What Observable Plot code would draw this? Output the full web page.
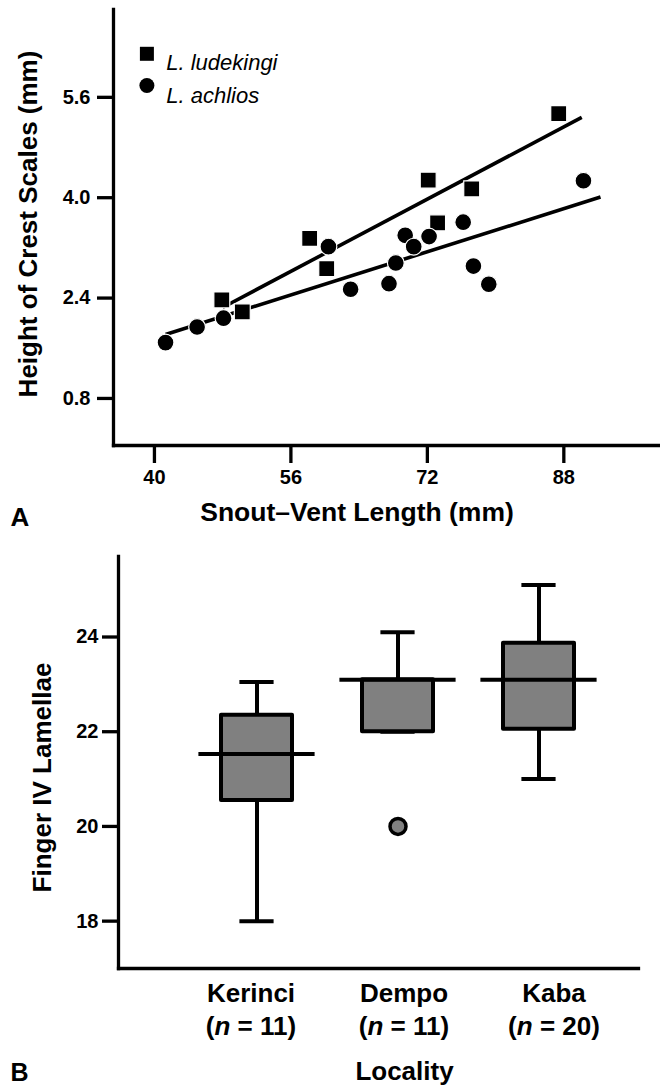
<!DOCTYPE html>
<html>
<head>
<meta charset="utf-8">
<script src="https://cdn.jsdelivr.net/npm/d3@7"></script>
<script src="https://cdn.jsdelivr.net/npm/@observablehq/plot@0.6"></script>
<style>
  body { margin: 0; background: #fff; }
  #chart svg { display: block; }
</style>
</head>
<body>
<div id="chart"></div>
<script>
// ---------- Panel A data ----------
const speciesNames = ["L. ludekingi", "L. achlios"];
const ludekingiSVL   = [47.9, 50.3, 58.2, 60.2, 72.1, 73.2, 77.2, 87.4];
const ludekingiCrest = [2.37, 2.18, 3.35, 2.87, 4.28, 3.60, 4.14, 5.34];
const achliosSVL   = [41.3, 45.0, 48.1, 60.4, 63.0, 67.5, 68.3, 69.4, 70.4, 72.2, 76.2, 77.4, 79.2, 90.3];
const achliosCrest = [1.69, 1.94, 2.08, 3.22, 2.54, 2.63, 2.96, 3.40, 3.22, 3.38, 3.61, 2.91, 2.62, 4.27];
// fitted regression lines (end points)
const fitSpecies    = ["L. ludekingi", "L. achlios"];
const fitSVLStart   = [48.0, 41.3];
const fitCrestStart = [2.25, 1.82];
const fitSVLEnd     = [90.1, 92.3];
const fitCrestEnd   = [5.28, 4.01];
const crestTicks = [0.8, 2.4, 4.0, 5.6];
const svlTicks = [40, 56, 72, 88];

// ---------- Panel B data ----------
const localities  = ["Kerinci", "Dempo", "Kaba"];
const sampleSizes = [11, 11, 20];
const whiskerLow  = [18.0, 22.0, 21.0];
const q1          = [20.55, 22.0, 22.05];
const medians     = [21.53, 23.1, 23.1];
const q3          = [22.35, 23.1, 23.87];
const whiskerHigh = [23.05, 24.1, 25.1];
const outlierLocality = ["Dempo"];
const outlierValue    = [20];
const lamellaeTicks = [18, 20, 22, 24];

const FONT = "'Liberation Sans', Arial, Helvetica, sans-serif";

const ptsL = ludekingiSVL.map((x, i) => ({species: speciesNames[0], svl: x, crest: ludekingiCrest[i]}));
const ptsA = achliosSVL.map((x, i) => ({species: speciesNames[1], svl: x, crest: achliosCrest[i]}));
const fits = fitSpecies.map((s, i) => ({species: s, x1: fitSVLStart[i], y1: fitCrestStart[i], x2: fitSVLEnd[i], y2: fitCrestEnd[i]}));

const axisLine = {stroke: "black", strokeWidth: 3.3, strokeLinecap: "square"};

const topPlot = Plot.plot({
  width: 660, height: 535,
  marginLeft: 113, marginRight: 2, marginTop: 9, marginBottom: 90,
  style: {fontFamily: FONT, background: "white", color: "black", overflow: "visible"},
  x: {domain: [35.2, 99.1], label: null},
  y: {domain: [0.05, 7.0], label: null},
  marks: [
    Plot.frame({anchor: "left", ...axisLine}),
    Plot.frame({anchor: "bottom", ...axisLine}),
    Plot.axisY(crestTicks, {tickFormat: d3.format(".1f"), tickSize: 16, tickPadding: 7, strokeWidth: 3.3, fontSize: 20, fontWeight: "bold", label: null}),
    Plot.axisX(svlTicks, {tickSize: 18, tickPadding: 6, strokeWidth: 3.3, fontSize: 20, fontWeight: "bold", label: null}),
    Plot.link(fits, {x1: "x1", y1: "y1", x2: "x2", y2: "y2", stroke: "black", strokeWidth: 3.6}),
    Plot.dot(ptsL, {x: "svl", y: "crest", symbol: "square", r: 9, fill: "black", stroke: "white", strokeWidth: 1.2}),
    Plot.dot(ptsA, {x: "svl", y: "crest", symbol: "circle", r: 8.4, fill: "black", stroke: "white", strokeWidth: 1.2}),
    // legend
    Plot.dot([speciesNames[0]], {frameAnchor: "top-left", dx: 33.4, dy: 44.3, symbol: "square", r: 7.9, fill: "black"}),
    Plot.dot([speciesNames[1]], {frameAnchor: "top-left", dx: 33.4, dy: 76, symbol: "circle", r: 7.5, fill: "black"}),
    Plot.text([speciesNames[0]], {frameAnchor: "top-left", textAnchor: "start", dx: 52.7, dy: 45, fontSize: 22, fontStyle: "italic"}),
    Plot.text([speciesNames[1]], {frameAnchor: "top-left", textAnchor: "start", dx: 52.7, dy: 77.5, fontSize: 22, fontStyle: "italic"}),
    // titles
    Plot.text(["Snout–Vent Length (mm)"], {frameAnchor: "bottom", textAnchor: "middle", lineAnchor: "bottom", dx: -29, dy: 75, fontSize: 26.5, fontWeight: "bold"}),
    Plot.text(["Height of Crest Scales (mm)"], {frameAnchor: "left", textAnchor: "middle", rotate: -90, lineAnchor: "bottom", dx: -76.8, dy: -3.5, fontSize: 26, fontWeight: "bold"}),
    Plot.text(["A"], {frameAnchor: "bottom-left", textAnchor: "start", lineAnchor: "bottom", dx: -103, dy: 80, fontSize: 26, fontWeight: "bold"})
  ]
});

const boxes = localities.map((loc, i) => ({loc, n: sampleSizes[i], lo: whiskerLow[i], q1: q1[i], med: medians[i], q3: q3[i], hi: whiskerHigh[i]}));
const outliers = outlierLocality.map((loc, i) => ({loc, value: outlierValue[i]}));
// small horizontal shifts of the category labels, as in the figure
const labelShift = [-6, 6, 15];

const bottomPlot = Plot.plot({
  width: 660, height: 554,
  marginLeft: 118, marginRight: 22, marginTop: 21, marginBottom: 121,
  style: {fontFamily: FONT, background: "white", color: "black", overflow: "visible"},
  x: {type: "band", domain: localities, range: [149.9, 645.2], padding: 0.5, axis: null, label: null},
  y: {domain: [17, 25.7], label: null},
  marks: [
    Plot.frame({anchor: "left", ...axisLine}),
    Plot.frame({anchor: "bottom", ...axisLine}),
    Plot.axisY(lamellaeTicks, {tickSize: 16, tickPadding: 4, strokeWidth: 3.3, fontSize: 20, fontWeight: "bold", label: null}),
    Plot.ruleX(boxes, {x: "loc", y1: "q3", y2: "hi", stroke: "black", strokeWidth: 4}),
    Plot.ruleX(boxes, {x: "loc", y1: "lo", y2: "q1", stroke: "black", strokeWidth: 4}),
    Plot.tickY(boxes, {x: "loc", y: "hi", inset: 18.4, stroke: "black", strokeWidth: 4}),
    Plot.tickY(boxes, {x: "loc", y: "lo", inset: 18.4, stroke: "black", strokeWidth: 4}),
    Plot.barY(boxes, {x: "loc", y1: "q1", y2: "q3", fill: "#808080", stroke: "black", strokeWidth: 4, strokeLinejoin: "round"}),
    Plot.tickY(boxes, {x: "loc", y: "med", inset: -22.6, stroke: "black", strokeWidth: 4}),
    Plot.dot(outliers, {x: "loc", y: "value", r: 8, fill: "#808080", stroke: "black", strokeWidth: 3.5}),
    ...boxes.map((b, i) => Plot.text([b], {x: "loc", text: d => `${d.loc}\n(n = ${d.n})`, frameAnchor: "bottom", lineAnchor: "top", dx: labelShift[i], dy: 10, fontSize: 26, fontWeight: "bold", lineHeight: 1.27})),
    Plot.text(["Locality"], {frameAnchor: "bottom", textAnchor: "middle", lineAnchor: "bottom", dx: 26, dy: 111, fontSize: 26, fontWeight: "bold"}),
    Plot.text(["Finger IV Lamellae"], {frameAnchor: "left", textAnchor: "middle", rotate: -90, lineAnchor: "bottom", dx: -68, dy: 15, fontSize: 26, fontWeight: "bold"}),
    Plot.text(["B"], {frameAnchor: "bottom-left", textAnchor: "start", lineAnchor: "bottom", dx: -108, dy: 112, fontSize: 25, fontWeight: "bold"})
  ]
});

// italicize the "n" in "(n = 11)" labels
function italicizeN(svg) {
  d3.select(svg).selectAll("text, tspan").each(function () {
    if (this.children.length) return;
    const m = /^\(n = (\d+)\)$/.exec(this.textContent);
    if (!m) return;
    const el = d3.select(this);
    el.text(null);
    el.append("tspan").text("(");
    el.append("tspan").attr("font-style", "italic").text("n");
    el.append("tspan").text(` = ${m[1]})`);
  });
}
italicizeN(bottomPlot);

const chart = document.getElementById("chart");
chart.appendChild(topPlot);
chart.appendChild(bottomPlot);
</script>
</body>
</html>
